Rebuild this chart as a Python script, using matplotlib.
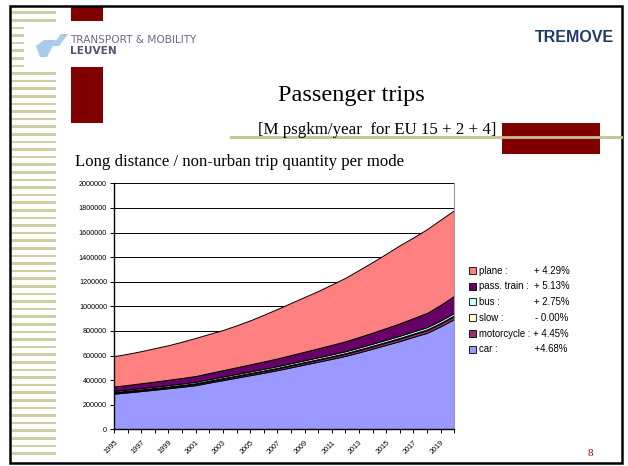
import matplotlib.pyplot as plt
import matplotlib.patches as mpatches
import numpy as np

# data (thousand passenger-km per year)
years = list(range(1995, 2021))
car = [290, 300, 311, 322, 334, 346, 359, 380, 400, 420, 440, 460, 481,
       504, 527, 550, 573, 597, 626, 656, 687, 718, 752, 785, 838, 897]
motorcycle = [8.0, 8.4, 8.8, 9.2, 9.6, 10.0, 10.5, 11.0, 11.5, 12.0, 12.5, 13.1, 13.7,
              14.3, 15.0, 15.6, 16.3, 17.1, 17.8, 18.6, 19.5, 20.4, 21.3, 22.2, 23.3, 24.5]
slow = [5] * 26
bus = [10.0, 10.3, 10.6, 10.9, 11.2, 11.5, 11.8, 12.1, 12.4, 12.8, 13.1, 13.5, 13.8,
       14.2, 14.6, 15.0, 15.4, 15.8, 16.2, 16.7, 17.1, 17.6, 18.1, 18.6, 19.1, 19.6]
train = [35, 37, 39, 41, 43, 45, 47, 49.5, 52, 54.5, 57, 60, 63,
         66, 69.5, 73, 77, 81, 85.5, 90, 95, 101, 108, 116, 127, 140]
plane = [247, 253, 261, 272, 281, 295, 310, 318, 326, 341, 358, 380, 402,
         424, 445, 466, 491, 516, 545, 574, 604, 635, 656, 681, 693, 696]

modes = ["car :", "motorcycle :", "slow :", "bus :", "pass. train :", "plane :"]
growth = ["+4.68%", "+ 4.45%", "- 0.00%", "+ 2.75%", "+ 5.13%", "+ 4.29%"]
colors = ["#9999ff", "#993366", "#ffffcc", "#ccffff", "#660066", "#ff8080"]

W, H = 628, 466
fig = plt.figure(figsize=(W / 100, H / 100), dpi=100)

# slide background in pixel coords
bg = fig.add_axes([0, 0, 1, 1])
bg.set_xlim(0, W)
bg.set_ylim(H, 0)
bg.axis("off")

for y in np.arange(12.7, 458, 7.6):
    bg.add_patch(mpatches.Rectangle((12, y - 1.3), 44, 2.6, color="#cfcfa6", lw=0))
bg.add_patch(mpatches.Rectangle((24, 22), 181, 45, color="white", lw=0))
dark_red = "#800000"
bg.add_patch(mpatches.Rectangle((71, 7), 32, 14, color=dark_red, lw=0))
bg.add_patch(mpatches.Rectangle((71, 67), 32, 56, color=dark_red, lw=0))
bg.plot([231, 621], [137, 137], color="#c2c28f", lw=2)
bg.add_patch(mpatches.Rectangle((502, 123), 98, 31, color=dark_red, lw=0))
bg.add_patch(mpatches.Rectangle((10, 6), 612, 457, fill=False, ec="black", lw=1.8))

# logo
bg.add_patch(mpatches.Polygon([(36, 46), (44, 40), (56, 40), (47, 57), (40, 57)],
                              color="#a9cbeb", lw=0))
bg.add_patch(mpatches.Polygon([(52, 46), (61, 34), (68, 34), (59, 46)],
                              color="#a9cbeb", lw=0))
bg.text(70, 40, "TRANSPORT & MOBILITY", fontsize=7.6, color="#6c6a8c",
        family=["Liberation Sans Narrow", "DejaVu Sans"], va="center", ha="left")
bg.text(70, 51, "LEUVEN", fontsize=7.6, color="#55536f", fontweight="bold",
        family=["Liberation Sans Narrow", "DejaVu Sans"], va="center", ha="left")
bg.text(614, 37, "TREMOVE", fontsize=11.5, color="#1f3a68", fontweight="bold",
        family="Liberation Sans", va="center", ha="right")

serif = "Liberation Serif"
bg.text(351, 96, "Passenger trips", fontsize=17.5, family=serif, ha="center", va="center")
bg.text(258, 130, "[M psgkm/year  for EU 15 + 2 + 4]", fontsize=12.2, family=serif,
        ha="left", va="center")
bg.text(75, 162, "Long distance / non-urban trip quantity per mode", fontsize=12.1,
        family=serif, ha="left", va="center")
bg.text(590, 453, "8", fontsize=8, family=serif, color="#990000", ha="center", va="center")

# chart
ax = fig.add_axes([114 / W, 1 - 429.3 / H, (454.3 - 114) / W, (429.3 - 183.3) / H])
values = np.array([car, motorcycle, slow, bus, train, plane]) * 1000
ax.stackplot(years, values, colors=colors, edgecolor="black", linewidth=0.7, zorder=2)
ax.set_xlim(1995, 2020)
ax.set_ylim(0, 2000000)
ax.set_yticks(range(0, 2000001, 200000))
ax.set_yticklabels([str(v) for v in range(0, 2000001, 200000)])
ax.yaxis.grid(True, color="black", lw=0.7, zorder=1)
ax.set_axisbelow(True)
ax.set_xticks(years)
ax.set_xticklabels([str(y) if (y - 1995) % 2 == 0 else "" for y in years],
                   rotation=45, ha="right", va="top", rotation_mode="anchor")
ax.tick_params(labelsize=5.2, length=3, width=0.7, pad=2)
ax.tick_params(axis="x", pad=4)
for lab in ax.get_xticklabels() + ax.get_yticklabels():
    lab.set_family("Liberation Sans")
ax.spines["right"].set_color("#999999")
ax.spines["top"].set_visible(False)
ax.spines["left"].set_linewidth(1)
ax.spines["bottom"].set_linewidth(1)

handles = [mpatches.Patch(facecolor=c, edgecolor="black", lw=0.6) for c in colors][::-1]
labels = ["plane :          + 4.29%", "pass. train :  + 5.13%", "bus :             + 2.75%",
          "slow :            - 0.00%", "motorcycle : + 4.45%", "car :              +4.68%"]
leg = fig.legend(handles, labels, loc="upper left", bbox_to_anchor=(460 / W, 1 - 257 / H),
                 frameon=False, handlelength=0.75, handleheight=0.75,
                 handletextpad=0.3, labelspacing=0.6, prop={"family": "Liberation Sans", "size": 6.9})

fig.savefig("out.png", dpi=100)
